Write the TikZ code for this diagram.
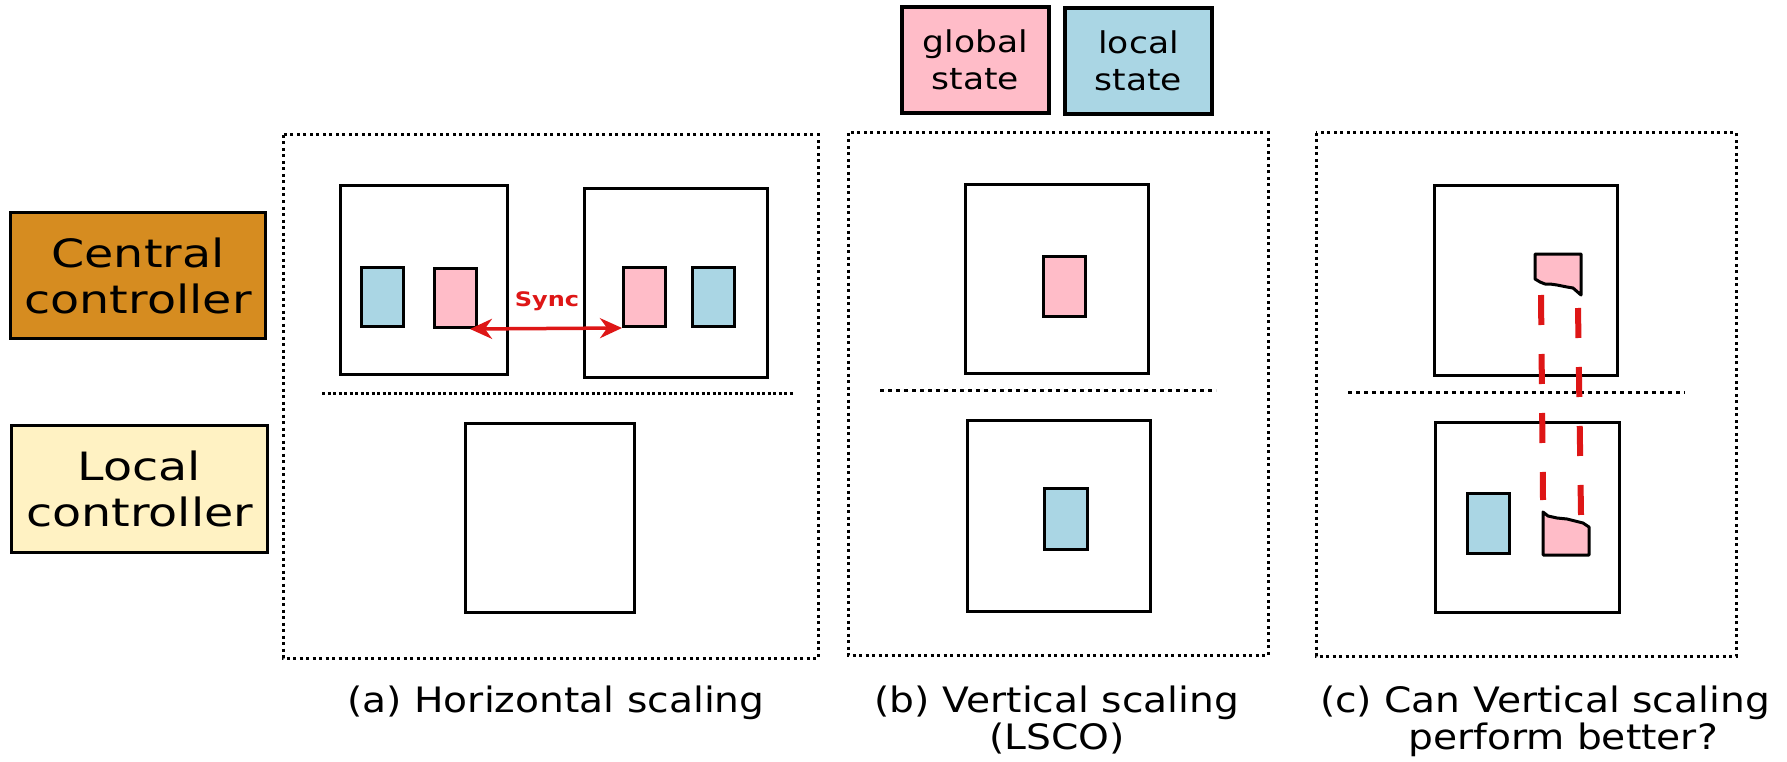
\documentclass[tikz,border=0pt]{standalone}
\usepackage{fontspec}
\setmainfont{DejaVu Sans}
\newfontfamily\capfont[FakeStretch=1.12]{DejaVu Sans}
\newfontfamily\ctlfont[FakeStretch=1.22]{DejaVu Sans}
\newfontfamily\legfont[FakeStretch=1.15]{DejaVu Sans}
\newfontfamily\syncfont[FakeStretch=1.2]{DejaVu Sans}
\usetikzlibrary{arrows.meta}
\definecolor{gpink}{RGB}{255,188,200}
\definecolor{lblue}{RGB}{170,214,228}
\definecolor{centralc}{RGB}{214,140,32}
\definecolor{localc}{RGB}{255,242,195}
\definecolor{syncred}{RGB}{222,22,22}
\tikzset{
  panel/.style={draw, line width=3pt, dash pattern=on 3pt off 3.5pt},
  sepa/.style={draw, line width=3pt, dash pattern=on 3pt off 2.5pt},
  sepb/.style={draw, line width=3pt, dash pattern=on 4pt off 4pt},
  ctrlbox/.style={draw, line width=3.3pt, fill=white, inner sep=0pt, anchor=north west},
  st/.style={draw, line width=3pt, inner sep=0pt, anchor=north west, minimum width=42pt, minimum height=59pt},
  gst/.style={st, fill=gpink},
  lst/.style={st, fill=lblue},
  legend/.style={draw, line width=4pt, inner sep=0pt, anchor=north west, minimum width=147pt, minimum height=106pt, align=center, font=\legfont\fontsize{30pt}{37pt}\selectfont},
  ctl/.style={draw, line width=3pt, inner sep=0pt, anchor=north west, minimum width=256pt, minimum height=127pt, align=center, font=\ctlfont\fontsize{39pt}{46pt}\selectfont},
  captext/.style={inner sep=0pt, anchor=north, align=center, font=\capfont\fontsize{35pt}{37pt}\selectfont},
  frag/.style={draw, fill=gpink, line width=3pt, line join=round},
  reddash/.style={draw=syncred, line width=6pt, dash pattern=on 30pt off 29pt},
  syncarrow/.style={draw=syncred, line width=3.5pt, {Stealth[length=22pt,width=20pt]}-{Stealth[length=22pt,width=20pt]}},
  synclabel/.style={text=syncred, inner sep=0pt, font=\syncfont\bfseries\fontsize{20pt}{22pt}\selectfont}
}
\begin{document}
\begin{tikzpicture}[x=1pt,y=-1pt]
\useasboundingbox (0,0) rectangle (1787,762);
\fill[white] (0,0) rectangle (1787,762);

% legend
\node[legend, fill=gpink] (lg) at (900,5) {global\\state};
\node[legend, fill=lblue] (ll) at (1063,6) {local\\state};

% controller labels
\node[ctl, fill=centralc, minimum width=255pt, minimum height=126pt] (cc) at (9,211) {Central\\controller};
\node[ctl, fill=localc] (lc) at (10,424) {Local\\controller};

% panels
\draw[panel] (283,135) rectangle (818,658);
\draw[panel] (848,133) rectangle (1268,655);
\draw[panel] (1316,133) rectangle (1736,656);

% separators
\draw[sepa] (322,393) -- (793,393);
\draw[sepb] (880,390) -- (1216,390);
\draw[sepb] (1348,392) -- (1685,392);

% panel (a)
\node[ctrlbox, minimum width=167pt, minimum height=189pt] (a1) at (339,184) {};
\node[ctrlbox, minimum width=183pt, minimum height=189pt] (a2) at (583,187) {};
\node[ctrlbox, minimum width=169pt, minimum height=189pt] (a3) at (464,422) {};
\node[lst] (ab1) at (360,266) {};
\node[gst] (ap1) at (433,267) {};
\node[gst] (ap2) at (622,266) {};
\node[lst] (ab2) at (691,266) {};
\draw[syncarrow] ([xshift=-8pt]ap1.south east) -- (ap2.south west);
\node[synclabel] (sync) at (547,301) {Sync};

% panel (b)
\node[ctrlbox, minimum width=183pt, minimum height=189pt] (b1) at (964,183) {};
\node[ctrlbox, minimum width=183pt, minimum height=191pt] (b2) at (966,419) {};
\node[gst, minimum height=60pt] (bp) at (1042,255) {};
\node[lst, minimum width=43pt, minimum height=61pt] (bb) at (1043,487) {};

% panel (c)
\node[ctrlbox, minimum width=183pt, minimum height=190pt] (c1) at (1433,184) {};
\node[ctrlbox, minimum width=184pt, minimum height=190pt] (c2) at (1434,421) {};
\node[lst, minimum height=60pt] (cb) at (1466,492) {};
\draw[frag] (1535,254) -- (1581,254) -- (1581,295) -- (1573,288) -- (1567,287) -- (1557,285)
  -- (1550,284) -- (1545,284) -- (1540,282) -- (1535,279) -- cycle;
\draw[frag] (1543,512) -- (1548,516) -- (1557,518) -- (1567,519) -- (1575,521) -- (1583,523)
  -- (1589,527) -- (1589,555) -- (1543,555) -- cycle;
\coordinate (l1) at (1541,295);
\coordinate (l2) at (1543,500);
\coordinate (r1) at (1578,308);
\coordinate (r2) at (1581,515);
\draw[reddash] (l1) -- (l2);
\draw[reddash] (r1) -- (r2);

% captions
\node[captext] (capa) at (556,686) {(a) Horizontal scaling};
\node[captext] (capb) at (1057,686) {(b) Vertical scaling\\(LSCO)};
\node[captext] (capc) at (1545,686) {(c) Can Vertical scaling\\\hspace*{36pt}perform better?};
\end{tikzpicture}
\end{document}
